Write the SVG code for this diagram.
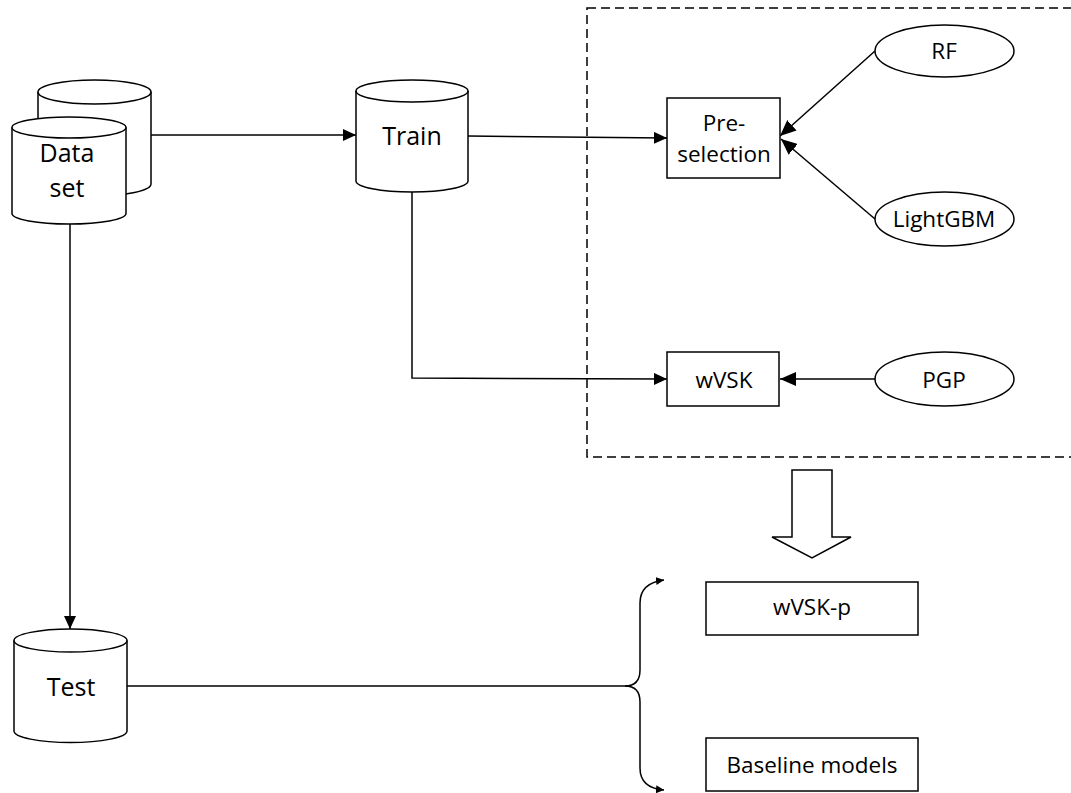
<svg xmlns="http://www.w3.org/2000/svg" width="1071" height="793" viewBox="0 0 1071 793">
<style>
.sh{fill:#fff;stroke:#000;stroke-width:1.5}
.ln{fill:none;stroke:#000;stroke-width:1.5}
.t{font-family:"Open Sans","Noto Sans",sans-serif;font-size:22.5px;fill:#000;text-anchor:middle}
.big{font-size:25px}
</style>
<defs>
<marker id="ah" markerUnits="userSpaceOnUse" markerWidth="14" markerHeight="12" refX="13" refY="6" orient="auto">
<path d="M0,0 L13,6 L0,12 Z" fill="#000"/>
</marker>
<marker id="ahL" markerUnits="userSpaceOnUse" markerWidth="17" markerHeight="14" refX="16" refY="7" orient="auto">
<path d="M0,0 L16,7 L0,14 Z" fill="#000"/>
</marker>
<marker id="ahS" markerUnits="userSpaceOnUse" markerWidth="9" markerHeight="8" refX="8" refY="4" orient="auto">
<path d="M0,0 L8,4 L0,8 Z" fill="#000"/>
</marker>
</defs>

<rect id="group-box" x="587" y="8" width="490" height="449" fill="none" stroke="#000" stroke-width="1.5" stroke-dasharray="9,5"/>

<g id="connectors">
<line class="ln" x1="151" y1="135" x2="356" y2="135" marker-end="url(#ah)"/>
<line class="ln" x1="468" y1="136" x2="667" y2="138" marker-end="url(#ah)"/>
<polyline class="ln" points="412,192 412,378 667,379" marker-end="url(#ah)"/>
<line class="ln" x1="70" y1="224" x2="70" y2="629" marker-end="url(#ah)"/>
<line class="ln" x1="875" y1="51" x2="780" y2="136" marker-end="url(#ahL)"/>
<line class="ln" x1="875" y1="219" x2="781" y2="139" marker-end="url(#ahL)"/>
<line class="ln" x1="875" y1="379" x2="780" y2="379" marker-end="url(#ahL)"/>
<line class="ln" x1="127" y1="686" x2="625" y2="686"/>
<path class="ln" d="M625,686 Q640,686 640,670 L640,603 Q640,583 664,580" marker-end="url(#ahS)"/>
<path class="ln" d="M625,686 Q640,686 640,702 L640,768 Q640,788 664,790" marker-end="url(#ahS)"/>
<path id="big-arrow" class="sh" d="M792,470 L832,470 L832,537 L851,537 L812,558 L772,537 L792,537 Z"/>
</g>

<g id="dataset">
<path class="sh" d="M38,92 L38,184 A56.5,12 0 0 0 151,184 L151,92 A56.5,12 0 0 0 38,92 Z"/>
<path class="ln" d="M38,92 A56.5,12 0 0 0 151,92"/>
<path class="sh" d="M12,127.5 L12,213.5 A57,10.5 0 0 0 126,213.5 L126,127.5 A57,10.5 0 0 0 12,127.5 Z"/>
<path class="ln" d="M12,127.5 A57,10.5 0 0 0 126,127.5"/>
<text class="t big" x="67" y="162">Data</text>
<text class="t big" x="67" y="197">set</text>
</g>

<g id="train">
<path class="sh" d="M356,91 L356,181 A56,11 0 0 0 468,181 L468,91 A56,11 0 0 0 356,91 Z"/>
<path class="ln" d="M356,91 A56,11 0 0 0 468,91"/>
<text class="t big" x="412" y="145">Train</text>
</g>

<g id="test">
<path class="sh" d="M14,640.5 L14,731 A56.5,11.5 0 0 0 127,731 L127,640.5 A56.5,11.5 0 0 0 14,640.5 Z"/>
<path class="ln" d="M14,640.5 A56.5,11.5 0 0 0 127,640.5"/>
<text class="t big" x="71" y="696">Test</text>
</g>

<g id="preselection">
<rect class="sh" x="667" y="98" width="113" height="80"/>
<text class="t" x="724" y="131">Pre-</text>
<text class="t" x="724" y="162">selection</text>
</g>

<g id="wvsk">
<rect class="sh" x="667" y="352" width="112" height="54"/>
<text class="t" x="724" y="388">wVSK</text>
</g>

<g id="rf">
<ellipse class="sh" cx="944.5" cy="51" rx="69.5" ry="26"/>
<text class="t" x="944" y="59">RF</text>
</g>

<g id="lightgbm">
<ellipse class="sh" cx="944.5" cy="219" rx="69.5" ry="27"/>
<text class="t" x="944" y="227">LightGBM</text>
</g>

<g id="pgp">
<ellipse class="sh" cx="944.5" cy="379" rx="69.5" ry="27"/>
<text class="t" x="944" y="388">PGP</text>
</g>

<g id="wvsk-p">
<rect class="sh" x="706" y="582" width="212" height="53"/>
<text class="t" x="812" y="615">wVSK-p</text>
</g>

<g id="baseline">
<rect class="sh" x="706" y="738" width="212" height="53"/>
<text class="t" x="812" y="773">Baseline models</text>
</g>
</svg>
